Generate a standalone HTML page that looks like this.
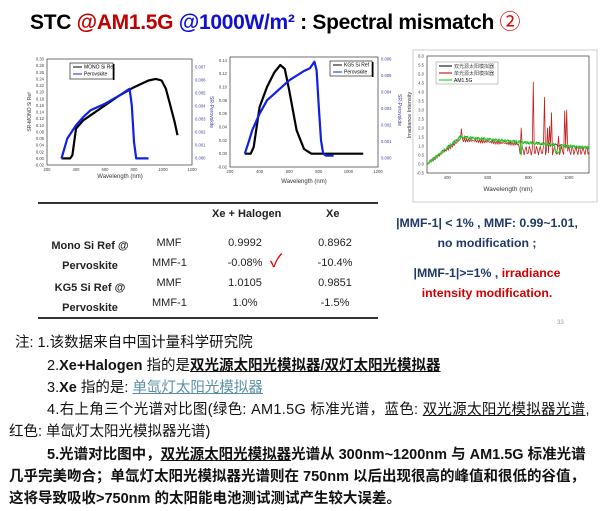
<!DOCTYPE html>
<html><head><meta charset="utf-8">
<style>
body{margin:0;width:600px;height:511px;background:#fff;overflow:hidden;position:relative;font-family:"Liberation Sans","Noto Sans CJK SC",sans-serif}
.a{position:absolute;white-space:nowrap}
.t{font-weight:bold;font-size:21px;left:30px;top:6px;letter-spacing:-0.3px}
.tb{font-size:11px;color:#222}
.b{font-weight:bold}
.n{font-size:14.5px;color:#111}
</style></head><body>
<div class="a t">STC <span style="color:#c00000">@AM1.5G</span> <span style="color:#1010d0">@1000W/m²</span> : Spectral mismatch <span style="color:#e00000;font-weight:normal">②</span></div>
<svg id="s" class="a" style="left:0;top:0" width="600" height="205" font-family="Liberation Sans" font-size="4"></svg>

<div class="a" style="left:38px;top:202px;width:340px;border-top:2px solid #333"></div>
<div class="a" style="left:38px;top:317px;width:340px;border-top:2px solid #333"></div>
<div class="a tb b" style="left:212px;top:208px">Xe + Halogen</div>
<div class="a tb b" style="left:326px;top:208px">Xe</div>
<div class="a tb b" style="left:50px;top:236px;text-align:center;width:80px;line-height:20px">Mono Si Ref @<br>Pervoskite</div>
<div class="a tb b" style="left:50px;top:278px;text-align:center;width:80px;line-height:20px">KG5 Si Ref @<br>Pervoskite</div>
<div class="a tb" style="left:152px;top:233px;line-height:20px;text-align:center;width:34px">MMF<br>MMF-1<br>MMF<br>MMF-1</div>
<div class="a tb" style="left:210px;top:233px;line-height:20px;text-align:center;width:70px">0.9992<br>-0.08%<br>1.0105<br>1.0%</div>
<div class="a" style="left:270px;top:247px;color:#e00000;font-size:18px">✓</div>
<div class="a tb" style="left:300px;top:233px;line-height:20px;text-align:center;width:70px">0.8962<br>-10.4%<br>0.9851<br>-1.5%</div>
<div class="a b" style="left:392px;top:213px;width:190px;text-align:center;font-size:12.3px;color:#1f3864;line-height:20px">|MMF-1| &lt; 1% , MMF: 0.99~1.01,<br>no modification ;</div>
<div class="a b" style="left:392px;top:263px;width:190px;text-align:center;font-size:12.3px;color:#1f3864;line-height:20px">|MMF-1|&gt;=1% , <span style="color:#d00000">irradiance</span><br><span style="color:#d00000">intensity modification.</span></div>
<div class="a" style="left:557px;top:320px;font-size:6px;color:#999">33</div>

<div class="a n" style="left:15px;top:331px">注:&nbsp;1.该数据来自中国计量科学研究院</div>
<div class="a n" style="left:47px;top:354px">2.<b>Xe+Halogen</b> 指的是<b style="text-decoration:underline">双光源太阳光模拟器/双灯太阳光模拟器</b></div>
<div class="a n" style="left:47px;top:376px">3.<b>Xe</b> 指的是: <span style="color:#5a8fa8;text-decoration:underline">单氙灯太阳光模拟器</span></div>
<div class="a n" style="left:47px;top:398px;letter-spacing:0.3px">4.右上角三个光谱对比图(绿色: AM1.5G 标准光谱，蓝色: <u>双光源太阳光模拟器光谱</u>,</div>
<div class="a n" style="left:9px;top:420px">红色: 单氙灯太阳光模拟器光谱)</div>
<div class="a n b" style="left:47px;top:443px">5.光谱对比图中，<u>双光源太阳光模拟器</u>光谱从 300nm~1200nm 与 AM1.5G 标准光谱</div>
<div class="a n b" style="left:9px;top:465px">几乎完美吻合；单氙灯太阳光模拟器光谱则在 750nm 以后出现很高的峰值和很低的谷值，</div>
<div class="a n b" style="left:9px;top:487px">这将导致吸收&gt;750nm 的太阳能电池测试测试产生较大误差。</div>

<script>
var s=document.getElementById('s'),h='';
function P(pts,x0,x1,X0,X1,y0,y1,Y0,Y1,c,w,dash){var d=pts.map(function(p){return ((p[0]-x0)/(x1-x0)*(X1-X0)+X0).toFixed(1)+','+((p[1]-y0)/(y1-y0)*(Y1-Y0)+Y0).toFixed(1)}).join(' ');h+='<polyline points="'+d+'" fill="none" stroke="'+c+'" stroke-width="'+w+'"'+(dash?' stroke-dasharray="'+dash+'"':'')+' stroke-linejoin="round"/>';}
function T(x,y,t,o){h+='<text x="'+x+'" y="'+y+'" '+(o||'')+'>'+t+'</text>';}
// chart1
h+='<rect x="47" y="59" width="145" height="106" fill="none" stroke="#333" stroke-width="0.7"/>';
for(var v=-0.02;v<=0.301;v+=0.02){var y=165-(v+0.02)/0.32*106;T(44,y+1.5,v.toFixed(2),'text-anchor="end" font-size="4.2" fill="#444"');}
[200,400,600,800,1000,1200].forEach(function(x){T(47+(x-200)*0.145,171,x,'text-anchor="middle" font-size="4.2" fill="#444"')});
T(120,178,'Wavelength (nm)','text-anchor="middle" font-size="6" fill="#333"');
T(0,0,'SR-MONO Si Ref','transform="translate(31,112) rotate(-90)" text-anchor="middle" font-size="5" fill="#333"');
T(0,0,'SR-Perovskite','transform="translate(210,112) rotate(90)" text-anchor="middle" font-size="5" fill="#4040a0"');
for(var i=0;i<=7;i++){T(195,158-i*13+1.5,'0.00'+i,'font-size="4.2" fill="#4040a0"');}
P([[300,0],[360,0],[375,0.01],[400,0.09],[450,0.115],[500,0.13],[600,0.16],[700,0.19],[800,0.215],[900,0.235],[950,0.24],[990,0.235],[1020,0.21],[1050,0.16],[1080,0.11],[1100,0.07]],200,1200,47,192,-0.02,0.30,165,59,'#000',2.2);
P([[300,0],[320,0.03],[340,0.06],[400,0.1],[450,0.125],[500,0.145],[600,0.165],[700,0.19],[770,0.21],[785,0.16],[800,0.05],[815,0],[900,0]],200,1200,47,192,-0.02,0.30,165,59,'#1020e0',2.2);
h+='<rect x="70" y="63" width="43" height="16" fill="#fff" stroke="#000" stroke-width="0.6"/><rect x="113" y="64" width="1.5" height="16" fill="#000"/>';
h+='<line x1="73" y1="67" x2="82" y2="67" stroke="#000" stroke-width="1"/><line x1="73" y1="74" x2="82" y2="74" stroke="#1020e0" stroke-width="1"/>';
T(84,68.5,'MONO Si Ref','font-size="5"');T(84,75.5,'Perovskite','font-size="5"');
// chart2
h+='<rect x="230" y="57" width="148" height="110" fill="none" stroke="#333" stroke-width="0.7"/>';
for(var v=-0.02;v<=0.141;v+=0.02){var y=167-(v+0.02)/0.165*110;T(227,y+1.5,v.toFixed(2),'text-anchor="end" font-size="4.2" fill="#444"');}
[200,400,600,800,1000,1200].forEach(function(x){T(230+(x-200)*0.148,173,x,'text-anchor="middle" font-size="4.2" fill="#444"')});
T(304,183,'Wavelength (nm)','text-anchor="middle" font-size="6" fill="#333"');
T(0,0,'SR-Perovskite','transform="translate(398,110) rotate(90)" text-anchor="middle" font-size="5" fill="#4040a0"');
for(var i=0;i<=6;i++){T(381,158-i*16.5+1.5,'0.00'+i,'font-size="4.2" fill="#4040a0"');}
P([[300,0],[340,0],[360,0.01],[400,0.07],[450,0.1],[500,0.122],[540,0.133],[570,0.127],[600,0.095],[650,0.035],[700,0.007],[750,0],[1100,0]],200,1200,230,378,-0.02,0.145,167,57,'#000',2.2);
P([[300,0],[330,0.02],[350,0.035],[400,0.06],[450,0.08],[500,0.09],[600,0.11],[700,0.124],[740,0.128],[770,0.138],[785,0.125],[800,0.07],[815,0.02],[830,0],[850,-0.003],[900,-0.003]],200,1200,230,378,-0.02,0.145,167,57,'#1020e0',2.2);
h+='<rect x="330" y="61" width="42" height="15" fill="#fff" stroke="#000" stroke-width="0.6"/><rect x="372" y="62" width="1.5" height="15" fill="#000"/>';
h+='<line x1="333" y1="65" x2="342" y2="65" stroke="#000"/><line x1="333" y1="72" x2="342" y2="72" stroke="#1020e0"/>';
T(344,66.5,'KG5 Si Ref','font-size="5"');T(344,73.5,'Perovskite','font-size="5"');
// chart3
h+='<rect x="413" y="50" width="184" height="152" fill="none" stroke="#ccc" stroke-width="1"/>';
h+='<rect x="427" y="56" width="162" height="117" fill="#fff" stroke="#333" stroke-width="0.7"/>';
for(var v=-0.5;v<=6.01;v+=0.5){var y=173-(v+0.5)/6.5*117;T(424,y+1.5,v.toFixed(1),'text-anchor="end" font-size="4.2" fill="#444"');}
[400,600,800,1000].forEach(function(x){T(427+(x-300)*0.2025,179,x,'text-anchor="middle" font-size="4.2" fill="#444"')});
T(508,191,'Wavelength (nm)','text-anchor="middle" font-size="6.5" fill="#333"');
T(0,0,'Irradiance Intensity','transform="translate(411,115) rotate(-90)" text-anchor="middle" font-size="5.5" fill="#333"');
var bk=[],rd=[],gr=[];
for(var x=300;x<=1100;x+=5){var base;if(x<460)base=1.45*(x-300)/160;else base=1.5-0.6*(x-460)/640;
var n=Math.sin(x*1.7)*0.08;gr.push([x,Math.max(0,base+n+(x>760&&x<770?-0.7:0)+(x>930&&x<960?-0.4:0))]);
bk.push([x,Math.max(0,base+Math.sin(x*2.3)*0.06)]);
var r=base*0.9+Math.sin(x*3.1)*0.1;if(x>750)r=0.75+Math.sin(x*0.9)*0.25;
if(x==765)r=2.0;if(x==825)r=4.55;if(x==880)r=3.7;if(x==895)r=2.0;if(x==905)r=2.1;if(x==915)r=2.85;if(x==950)r=1.55;if(x==980)r=2.95;if(x==990)r=3.0;if(x==470)r=1.95;
rd.push([x,Math.max(0,r)]);}
P(bk,300,1100,427,589,-0.5,6,173,56,'#222',0.8);
P(rd,300,1100,427,589,-0.5,6,173,56,'#c02020',0.8);
P(gr,300,1100,427,589,-0.5,6,173,56,'#30d030',1.2);
h+='<rect x="436" y="62" width="62" height="22" fill="#fff" stroke="#888" stroke-width="0.5"/>';
h+='<line x1="439" y1="66" x2="452" y2="66" stroke="#222" stroke-width="1.2"/><line x1="439" y1="73" x2="452" y2="73" stroke="#c02020" stroke-width="1.2"/><line x1="439" y1="80" x2="452" y2="80" stroke="#30d030" stroke-width="1.2"/>';
T(454,68,'双光源太阳模拟器','font-size="5" font-family="Noto Sans CJK SC" fill="#444"');T(454,75,'单光源太阳模拟器','font-size="5" font-family="Noto Sans CJK SC" fill="#444"');T(454,82,'AM1.5G','font-size="5"');
s.innerHTML=h;
</script>
</body></html>
